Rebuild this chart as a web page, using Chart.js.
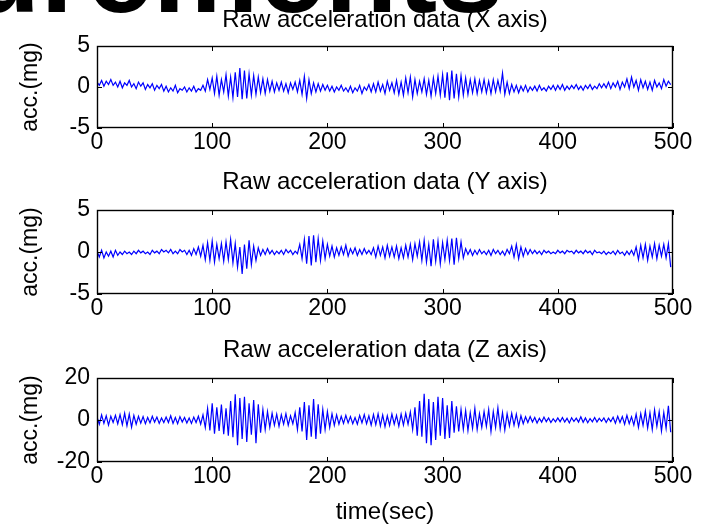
<!DOCTYPE html>
<html>
<head>
<meta charset="utf-8">
<script src="https://cdn.jsdelivr.net/npm/chart.js@4.4.1/dist/chart.umd.min.js"></script>
<style>
  html, body { margin: 0; padding: 0; background: #fff; }
  #page { position: relative; width: 704px; height: 528px; overflow: hidden; }
  #banner {
    position: absolute; left: -330px; top: -89px;
    font: bold 119px "Liberation Sans", Arial, sans-serif;
    line-height: 1; white-space: nowrap; color: #000;
  }
  canvas { position: absolute; left: 0; }
</style>
</head>
<body>
<div id="page">
  <div id="banner">Measurements</div>
  <canvas id="chartX" width="704" height="160" style="top:0px"></canvas>
  <canvas id="chartY" width="704" height="166" style="top:160px"></canvas>
  <canvas id="chartZ" width="704" height="202" style="top:326px"></canvas>
</div>
<script>
// sampling step of the series (seconds)
const sampleStep = 2;

// acceleration X (mg), one value every 2 s from t = 0
const accX = [
  0.6, 0.2, 0.8, 0.1, 0.7, 0.3, 0.9, 0.2, 0.6, 0.0,
  0.7, -0.1, 0.5, 0.2, 0.8, 0.0, 0.4, -0.2, 0.6, 0.1,
  0.5, -0.3, 0.3, -0.1, 0.4, -0.4, 0.2, -0.2, 0.3, -0.5,
  0.1, -0.6, -0.1, -0.5, 0.2, -0.7, -0.2, -0.4, 0.0, -0.6,
  -0.1, -0.5, 0.1, -0.6, -0.2, -0.4, 0.2, -0.5, 0.9, -0.3,
  1.1, -0.8, 1.3, -1.0, 0.9, -0.6, 1.5, -1.1, 1.2, -1.3,
  1.8, -1.2, 2.3, -1.5, 2.0, -1.4, 1.6, -1.0, 1.4, -0.9,
  1.2, -0.7, 1.0, -0.8, 0.9, -0.5, 0.7, -0.6, 0.5, -0.4,
  0.6, -0.5, 0.4, -0.7, 0.5, -0.3, 0.6, -0.6, 0.8, -0.9,
  1.3, -1.4, 0.9, -0.8, 0.5, -0.6, 0.4, -0.5, 0.3, -0.4,
  0.2, -0.5, 0.1, -0.6, 0.0, -0.4, 0.2, -0.5, -0.1, -0.6,
  0.1, -0.7, -0.1, -0.5, 0.2, -0.8, 0.0, -0.4, 0.3, -0.6,
  0.4, -0.6, 0.6, -0.5, 0.3, -0.8, 0.7, -0.4, 0.5, -0.7,
  0.8, -0.9, 0.6, -1.0, 1.1, -0.7, 1.2, -1.2, 0.9, -0.8,
  0.7, -0.6, 1.0, -0.9, 0.8, -1.1, 1.1, -0.8, 1.3, -1.0,
  1.5, -1.3, 1.8, -1.6, 2.0, -1.4, 1.6, -1.2, 1.4, -1.0,
  1.1, -0.9, 0.9, -0.7, 1.0, -0.8, 0.8, -0.6, 0.9, -0.7,
  0.7, -0.8, 0.9, -0.6, 0.8, -0.5, 1.7, -0.9, 0.6, -0.8,
  0.3, -0.6, 0.2, -0.7, 0.1, -0.5, 0.2, -0.6, 0.0, -0.4,
  0.1, -0.5, 0.2, -0.4, -0.1, -0.5, 0.1, -0.3, 0.2, -0.4,
  0.2, -0.3, 0.3, -0.4, 0.1, -0.3, 0.2, -0.2, 0.3, -0.3,
  0.1, -0.4, 0.2, -0.2, 0.3, -0.3, 0.1, -0.2, 0.4, -0.1,
  0.4, -0.1, 0.6, -0.2, 0.5, 0.0, 0.7, -0.3, 0.6, 0.0,
  1.0, -0.2, 1.2, 0.0, 0.8, -0.4, 0.9, -0.1, 0.7, -0.3,
  0.6, -0.4, 0.8, 0.0, 0.5, -0.2, 0.9, 0.1, 0.7, 0.3
];

// acceleration Y (mg)
const accY = [
  0.1, -0.6, 0.2, -0.7, 0.0, -0.5, 0.1, -0.6, 0.2, -0.4,
  0.0, -0.3, 0.1, -0.2, 0.0, -0.3, 0.1, -0.2, 0.2, -0.1,
  0.1, -0.2, 0.0, -0.3, 0.2, -0.1, 0.1, -0.2, 0.3, 0.0,
  0.2, -0.1, 0.3, -0.2, 0.1, -0.2, 0.3, 0.0, 0.2, -0.3,
  0.2, -0.4, 0.4, -0.3, 0.6, -0.5, 0.8, -0.9, 1.1, -1.0,
  1.3, -1.2, 0.9, -0.8, 1.0, -1.1, 1.2, -0.9, 1.5, -1.3,
  1.0, -1.8, 0.6, -2.6, 0.9, -2.0, 1.4, -1.5, 0.7, -1.0,
  0.5, -0.4, 0.3, -0.3, 0.4, -0.2, 0.2, -0.3, 0.1, -0.2,
  0.2, -0.3, 0.3, -0.1, 0.2, -0.3, 0.1, -0.2, 0.9, -0.8,
  1.5, -1.4, 1.9, -1.6, 2.0, -1.2, 1.6, -1.0, 1.3, -0.8,
  0.9, -0.5, 0.7, -0.6, 0.5, -0.4, 0.6, -0.3, 0.8, -0.5,
  0.4, -0.2, 0.5, -0.4, 0.3, -0.3, 0.4, -0.2, 0.2, -0.3,
  0.5, -0.6, 0.7, -0.4, 0.6, -0.7, 0.8, -0.5, 0.6, -0.6,
  0.7, -0.8, 0.5, -0.7, 0.8, -0.6, 0.9, -0.9, 1.0, -0.5,
  1.2, -1.0, 1.4, -1.2, 0.9, -1.7, 1.5, -1.1, 1.3, -1.4,
  1.1, -0.9, 1.4, -1.0, 1.6, -1.5, 1.7, -0.8, 1.2, -0.7,
  0.4, -0.3, 0.3, -0.4, 0.2, -0.3, 0.3, -0.2, 0.1, -0.3,
  0.2, -0.4, 0.3, -0.2, 0.2, -0.3, 0.1, -0.4, 0.3, -0.2,
  0.7, -0.6, 0.9, -0.8, 0.6, -0.5, 0.4, -0.3, 0.3, -0.2,
  0.2, -0.2, 0.1, -0.3, 0.2, -0.1, 0.1, -0.2, 0.0, -0.2,
  0.2, -0.1, 0.1, -0.2, 0.2, 0.0, 0.1, -0.2, 0.2, -0.1,
  0.1, -0.2, 0.2, -0.1, 0.1, -0.3, 0.2, -0.1, 0.0, -0.2,
  0.1, -0.3, 0.0, -0.2, 0.1, -0.3, 0.2, -0.2, 0.0, -0.4,
  0.1, -0.3, 0.2, -0.4, 0.6, -0.9, 0.8, -0.7, 0.9, -1.0,
  0.7, -0.6, 1.0, -0.8, 0.8, -0.5, 0.9, -0.7, 1.0, -1.8
];

// acceleration Z (mg)
const accZ = [
  1.5, -2.0, 2.4, -1.6, 2.0, -2.4, 1.8, -1.2, 2.2, -1.8,
  2.6, -2.2, 3.2, -2.8, 2.8, -3.4, 2.2, -2.0, 1.8, -1.5,
  1.6, -1.8, 1.2, -1.4, 1.8, -1.0, 1.4, -1.6, 1.0, -1.2,
  1.4, -1.2, 2.0, -1.6, 1.2, -1.8, 1.6, -1.0, 1.2, -1.4,
  1.0, -1.6, 1.4, -1.2, 1.8, -2.0, 2.4, -3.6, 5.5, -5.0,
  8.0, -6.5, 6.0, -5.2, 7.4, -6.8, 5.6, -7.5, 9.0, -8.2,
  12.2, -12.0, 10.5, -9.0, 11.0, -10.5, 8.0, -7.0, 9.5, -11.0,
  7.5, -6.0, 5.0, -4.5, 4.0, -3.5, 3.2, -2.5, 2.8, -3.0,
  2.5, -2.0, 3.0, -2.5, 2.0, -1.8, 3.5, -4.5, 6.0, -5.5,
  8.5, -9.5, 7.0, -8.0, 10.0, -9.0, 7.5, -6.5, 5.0, -4.5,
  4.0, -3.5, 3.0, -2.5, 2.4, -2.0, 1.8, -1.6, 2.2, -1.4,
  1.6, -1.8, 1.2, -2.0, 2.2, -1.4, 2.6, -1.8, 2.0, -2.4,
  2.6, -2.2, 3.0, -2.8, 2.4, -3.2, 2.0, -2.6, 2.8, -2.0,
  2.2, -3.0, 2.8, -2.4, 3.2, -2.0, 3.8, -4.5, 6.0, -7.5,
  9.0, -8.0, 12.5, -11.0, 10.0, -12.0, 8.5, -9.5, 11.0, -7.5,
  10.5, -9.0, 7.0, -8.5, 9.0, -6.0, 6.5, -5.5, 5.0, -4.5,
  4.5, -5.0, 3.5, -4.0, 5.5, -4.5, 3.0, -3.5, 4.0, -3.0,
  5.0, -5.5, 4.0, -3.5, 5.8, -4.2, 3.5, -4.8, 3.0, -2.8,
  3.2, -2.5, 2.8, -3.0, 2.0, -1.8, 1.5, -1.2, 1.6, -1.0,
  1.2, -1.4, 0.8, -1.0, 1.4, -0.8, 1.0, -1.2, 0.6, -0.9,
  1.0, -0.8, 1.2, -1.0, 0.8, -1.4, 1.1, -0.7, 0.9, -1.0,
  1.5, -1.1, 1.0, -1.3, 0.7, -0.9, 1.2, -1.0, 0.8, -0.6,
  1.0, -1.2, 0.9, -0.8, 1.3, -1.5, 1.8, -1.2, 1.6, -2.0,
  2.2, -1.8, 1.5, -2.4, 2.8, -3.5, 3.0, -2.6, 4.2, -3.8,
  3.5, -4.5, 4.8, -3.0, 4.0, -5.2, 3.6, -4.0, 6.8, -5.8
];

// axes
const timeRange = [0, 500];
const timeStep = 100;
const rangeXY = [-5, 5];
const stepXY = 5;
const rangeZ = [-20, 20];
const stepZ = 20;

const fontFamily = '"Liberation Sans", Arial, Helvetica, sans-serif';

// box round the plot + inward tick marks, like matlab
const boxTicks = {
  id: 'boxTicks',
  afterDatasetsDraw(chart) {
    const { ctx, chartArea: a, scales: { x, y } } = chart;
    const len = 5;
    ctx.save();
    ctx.strokeStyle = '#000';
    ctx.lineWidth = 1;
    ctx.beginPath();
    x.ticks.forEach(t => {
      const px = Math.round(x.getPixelForValue(t.value)) + 0.5;
      ctx.moveTo(px, a.bottom); ctx.lineTo(px, a.bottom - len);
      ctx.moveTo(px, a.top); ctx.lineTo(px, a.top + len);
    });
    y.ticks.forEach(t => {
      const py = Math.round(y.getPixelForValue(t.value)) + 0.5;
      ctx.moveTo(a.left, py); ctx.lineTo(a.left + len, py);
      ctx.moveTo(a.right, py); ctx.lineTo(a.right - len, py);
    });
    ctx.stroke();
    ctx.lineWidth = 1.4;
    ctx.strokeRect(Math.round(a.left) + 0.5, Math.round(a.top) + 0.5,
      Math.round(a.right - a.left) - 1, Math.round(a.bottom - a.top) - 1);
    ctx.restore();
  }
};

function makeChart(id, values, title, yRange, yStep, titlePad, xHeight, xTitle) {
  const points = values.map((v, i) => ({ x: i * sampleStep, y: v }));
  return new Chart(document.getElementById(id), {
    type: 'line',
    data: {
      datasets: [{
        data: points,
        borderColor: '#0000ff',
        borderWidth: 1.2,
        pointRadius: 0,
        tension: 0
      }]
    },
    plugins: [boxTicks],
    options: {
      responsive: false,
      animation: false,
      devicePixelRatio: 1,
      layout: { padding: { top: 0, left: 0, right: 31, bottom: 0 } },
      plugins: {
        legend: { display: false },
        tooltip: { enabled: false },
        title: {
          display: true,
          text: title,
          fullSize: false,
          color: '#000',
          font: { family: fontFamily, size: 24, weight: 'normal' },
          padding: titlePad
        }
      },
      scales: {
        x: {
          type: 'linear',
          min: timeRange[0], max: timeRange[1],
          grid: { display: false, drawTicks: false },
          border: { display: false },
          ticks: {
            stepSize: timeStep, padding: 1, color: '#000', maxRotation: 0,
            font: { family: fontFamily, size: 23 }
          },
          title: xTitle ? {
            display: true, text: xTitle, color: '#000',
            font: { family: fontFamily, size: 24 },
            padding: { top: 0, bottom: 1.6 }
          } : { display: false },
          afterFit: s => { s.height = xHeight; }
        },
        y: {
          min: yRange[0], max: yRange[1],
          grid: { display: false, drawTicks: false },
          border: { display: false },
          ticks: {
            stepSize: yStep, padding: 7, color: '#000',
            font: { family: fontFamily, size: 23 }
          },
          title: {
            display: true, text: 'acc.(mg)', color: '#000',
            font: { family: fontFamily, size: 23 },
            padding: { top: 17, bottom: 0 }
          },
          afterFit: s => { s.width = 97; }
        }
      }
    }
  });
}

makeChart('chartX', accX, 'Raw acceleration data (X axis)', rangeXY, stepXY,
  { top: 5.6, bottom: 11.6 }, 32);
makeChart('chartY', accY, 'Raw acceleration data (Y axis)', rangeXY, stepXY,
  { top: 7.6, bottom: 13.6 }, 32);
makeChart('chartZ', accZ, 'Raw acceleration data (Z axis)', rangeZ, stepZ,
  { top: 9.6, bottom: 13.6 }, 66, 'time(sec)');
</script>
</body>
</html>
